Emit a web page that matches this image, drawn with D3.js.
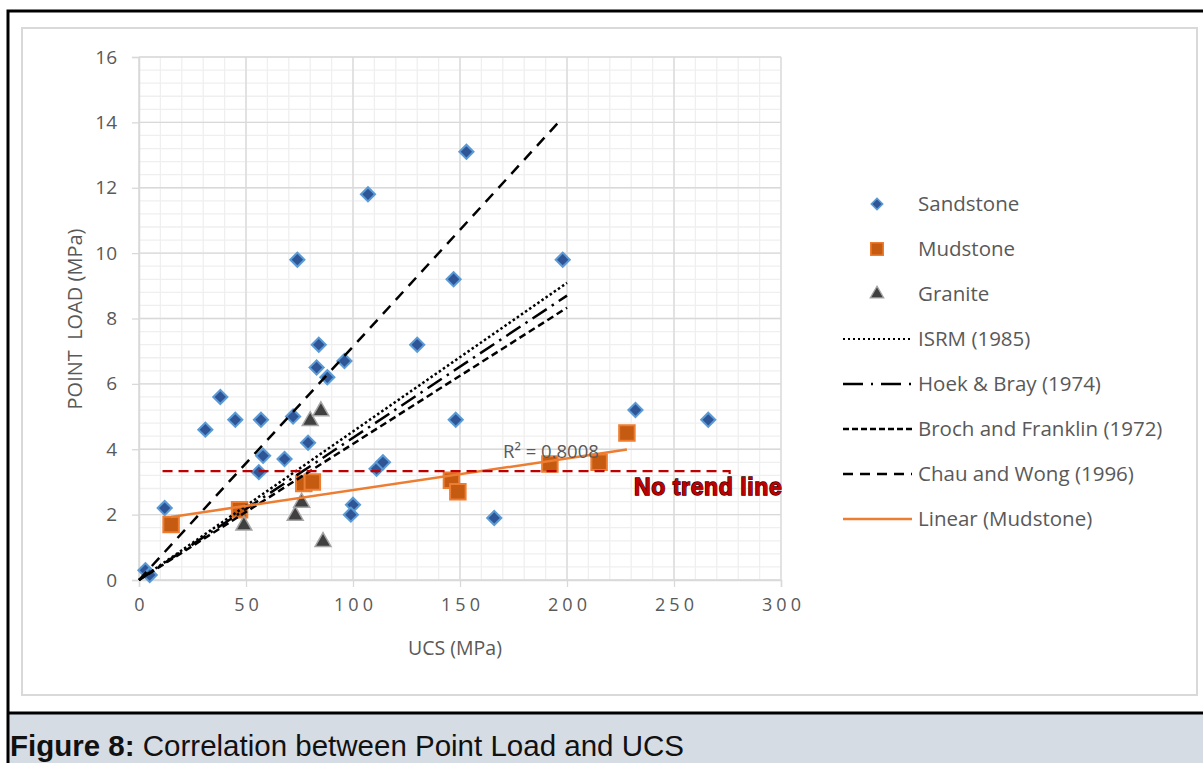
<!DOCTYPE html>
<html>
<head>
<meta charset="utf-8">
<script src="https://cdn.jsdelivr.net/npm/d3@7"></script>
<style>
  body { margin: 0; background: #fff; }
  text { font-family: "Open Sans", sans-serif; }
</style>
</head>
<body>
<div id="chart"></div>
<script>
// sandstone / mudstone / granite samples: [UCS, point load]
var sandstone = [
  [3, 0.3], [5, 0.15], [12, 2.2], [31, 4.6], [38, 5.6], [45, 4.9], [57, 4.9],
  [56, 3.3], [58, 3.8], [68, 3.7], [72, 5.0], [79, 4.2], [84, 7.2], [83, 6.5],
  [88, 6.2], [96, 6.7], [74, 9.8], [107, 11.8], [130, 7.2], [153, 13.1],
  [147, 9.2], [148, 4.9], [198, 9.8], [232, 5.2], [266, 4.9], [166, 1.9],
  [111, 3.4], [114, 3.6], [100, 2.3], [99, 2.0]
];
var mudstone = [
  [15, 1.7], [47, 2.15], [77, 2.95], [81, 3.0], [146, 3.05], [149, 2.7],
  [192, 3.55], [215, 3.6], [228, 4.5]
];
var granite = [
  [49, 1.7], [73, 2.0], [76, 2.4], [80, 4.9], [85, 5.2], [86, 1.2]
];

// published correlations, start and end points
var isrm = [[0, 0], [200, 9.09]];
var hoekBray = [[0, 0], [200, 8.7]];
var brochFranklin = [[0, 0], [200, 8.33]];
var chauWong = [[0, 0], [197, 14.07]];
var mudTrend = [[15, 1.93], [228, 3.99]];
var noTrend = [[11, 3.33], [276, 3.33]];

var xTicks = [0, 50, 100, 150, 200, 250, 300];
var yTicks = [0, 2, 4, 6, 8, 10, 12, 14, 16];

var svgWidth = 1203;
var svgHeight = 763;

var svg = d3.select("#chart")
  .append("svg")
  .attr("width", svgWidth)
  .attr("height", svgHeight);

svg.append("rect")
  .attr("width", svgWidth)
  .attr("height", svgHeight)
  .attr("fill", "#fff");

// caption band
svg.append("rect")
  .attr("x", 8)
  .attr("y", 714)
  .attr("width", svgWidth)
  .attr("height", 49)
  .attr("fill", "#d6dce4");

svg.append("path")
  .attr("d", `M${svgWidth},11 H8 V${svgHeight} M8,713 H${svgWidth}`)
  .attr("fill", "none")
  .attr("stroke", "#000")
  .attr("stroke-width", 3);

svg.append("text")
  .attr("x", 10)
  .attr("y", 756)
  .attr("font-size", "29.5px")
  .attr("fill", "#111")
  .style("font-family", "'Liberation Sans', Arial, sans-serif")
  .html('<tspan font-weight="bold">Figure 8:</tspan> Correlation between Point Load and UCS');

// chart area frame
svg.append("rect")
  .attr("x", 22)
  .attr("y", 28)
  .attr("width", 1175)
  .attr("height", 667)
  .attr("fill", "#fff")
  .attr("stroke", "#d9d9d9")
  .attr("stroke-width", 2);

var x = d3.scaleLinear().domain([0, 300]).range([139, 781]);
var y = d3.scaleLinear().domain([0, 16]).range([580, 57]);

var grid = svg.append("g");

// minor grid
grid.selectAll(".minorX")
  .data(d3.range(0, 301, 10))
  .enter()
  .append("line")
  .attr("x1", d => x(d))
  .attr("x2", d => x(d))
  .attr("y1", y(0))
  .attr("y2", y(16))
  .attr("stroke", "#efefef")
  .attr("stroke-width", 1.3);

grid.selectAll(".minorY")
  .data(d3.range(0, 40.5).map(i => i * 0.4))
  .enter()
  .append("line")
  .attr("x1", x(0))
  .attr("x2", x(300))
  .attr("y1", d => y(d))
  .attr("y2", d => y(d))
  .attr("stroke", "#efefef")
  .attr("stroke-width", 1.3);

// major grid
grid.selectAll(".majorX")
  .data(xTicks)
  .enter()
  .append("line")
  .attr("x1", d => x(d))
  .attr("x2", d => x(d))
  .attr("y1", y(0))
  .attr("y2", y(16))
  .attr("stroke", "#d9d9d9")
  .attr("stroke-width", 1.3);

grid.selectAll(".majorY")
  .data(yTicks)
  .enter()
  .append("line")
  .attr("x1", x(0))
  .attr("x2", x(300))
  .attr("y1", d => y(d))
  .attr("y2", d => y(d))
  .attr("stroke", "#d9d9d9")
  .attr("stroke-width", 1.3);

var xAxis = d3.axisBottom(x).tickValues(xTicks).tickSize(7).tickPadding(11);
var yAxis = d3.axisLeft(y).tickValues(yTicks).tickSize(7).tickPadding(15);

var xg = svg.append("g")
  .attr("transform", `translate(0, ${y(0)})`)
  .call(xAxis);

var yg = svg.append("g")
  .attr("transform", `translate(${x(0)}, 0)`)
  .call(yAxis);

[xg, yg].forEach(g => {
  g.select(".domain").attr("stroke", "#d9d9d9").attr("stroke-width", 1.5);
  g.selectAll(".tick line").attr("stroke", "#d9d9d9").attr("stroke-width", 1.3);
  g.selectAll(".tick text")
    .attr("fill", "#595959")
    .style("font-size", "19px")
    .style("font-family", "'Open Sans', sans-serif");
});
xg.selectAll(".tick text")
  .style("font-size", "18px")
  .attr("letter-spacing", "4px")
  .attr("dx", "2px");

svg.append("text")
  .attr("x", 455)
  .attr("y", 655)
  .attr("text-anchor", "middle")
  .attr("font-size", "19.5px")
  .attr("fill", "#595959")
  .text("UCS (MPa)");

svg.append("text")
  .attr("transform", "translate(82, 319) rotate(-90)")
  .attr("text-anchor", "middle")
  .attr("font-size", "20px")
  .attr("fill", "#595959")
  .attr("xml:space", "preserve")
  .style("white-space", "pre")
  .text("POINT  LOAD (MPa)");

// markers
var diamond = d3.symbol().type(d3.symbolSquare).size(100);
var square = d3.symbol().type(d3.symbolSquare).size(240);
var triangle = d3.symbol().type(d3.symbolTriangle).size(110);

svg.selectAll(".sand")
  .data(sandstone)
  .enter()
  .append("path")
  .attr("d", diamond)
  .attr("transform", d => `translate(${x(d[0])}, ${y(d[1])}) rotate(45)`)
  .attr("fill", "#2f5597")
  .attr("stroke", "#5b9bd5")
  .attr("stroke-width", 2);

svg.selectAll(".mud")
  .data(mudstone)
  .enter()
  .append("path")
  .attr("d", square)
  .attr("transform", d => `translate(${x(d[0])}, ${y(d[1])})`)
  .attr("fill", "#c55a11")
  .attr("stroke", "#ed7d31")
  .attr("stroke-width", 2);

svg.selectAll(".gran")
  .data(granite)
  .enter()
  .append("path")
  .attr("d", triangle)
  .attr("transform", d => `translate(${x(d[0])}, ${y(d[1]) + 1})`)
  .attr("fill", "#404040")
  .attr("stroke", "#a5a5a5")
  .attr("stroke-width", 1.5);

var line = d3.line().x(d => x(d[0])).y(d => y(d[1]));

var lineStyles = [
  { data: isrm, dash: "2.5,2.5", color: "#000", width: 2.5, name: "ISRM (1985)", legendDash: "2,3", legendWidth: 2 },
  { data: hoekBray, dash: "17,6,2.5,6", color: "#000", width: 2.5, name: "Hoek & Bray (1974)", legendDash: "20,8,2,8", legendWidth: 2.5 },
  { data: brochFranklin, dash: "7,4", color: "#000", width: 2.5, name: "Broch and Franklin (1972)", legendDash: "6,3", legendWidth: 2.5 },
  { data: chauWong, dash: "11,8", color: "#000", width: 2.5, name: "Chau and Wong (1996)", legendDash: "10,7", legendWidth: 2.5 },
  { data: mudTrend, dash: null, color: "#ed7d31", width: 2.5, name: "Linear (Mudstone)", legendDash: null, legendWidth: 2.5 }
];

lineStyles.forEach(s => {
  svg.append("path")
    .attr("d", line(s.data))
    .attr("fill", "none")
    .attr("stroke", s.color)
    .attr("stroke-width", s.width)
    .attr("stroke-dasharray", s.dash);
});

svg.append("text")
  .attr("x", 503)
  .attr("y", 458)
  .attr("font-size", "18.5px")
  .attr("fill", "#595959")
  .text("R² = 0.8008");

// "no trend" marker line
svg.append("path")
  .attr("d", line(noTrend) + " v5")
  .attr("fill", "none")
  .attr("stroke", "#c00000")
  .attr("stroke-width", 2.2)
  .attr("stroke-dasharray", "10,6");

svg.append("text")
  .attr("x", 634)
  .attr("y", 495)
  .style("font-family", "'Liberation Sans', Arial, sans-serif")
  .attr("font-size", "23px")
  .attr("font-weight", "bold")
  .attr("fill", "#c00000")
  .attr("stroke", "#300")
  .attr("stroke-width", 1.3)
  .attr("paint-order", "stroke")
  .attr("letter-spacing", "0.6px")
  .text("No trend line");

// legend
var legendX = 843;
var legendTop = 204;
var legendStep = 45;
var legend = svg.append("g");

var markerItems = [
  { name: "Sandstone", sym: diamond, rot: 45, fill: "#2f5597", stroke: "#5b9bd5", sw: 2, scale: 0.8 },
  { name: "Mudstone", sym: square, rot: 0, fill: "#c55a11", stroke: "#ed7d31", sw: 2, scale: 0.8 },
  { name: "Granite", sym: triangle, rot: 0, fill: "#404040", stroke: "#a5a5a5", sw: 1.5, scale: 0.85 }
];

markerItems.forEach((m, i) => {
  var ly = legendTop + i * legendStep;
  legend.append("path")
    .attr("d", m.sym)
    .attr("transform", `translate(877, ${ly}) rotate(${m.rot}) scale(${m.scale})`)
    .attr("fill", m.fill)
    .attr("stroke", m.stroke)
    .attr("stroke-width", m.sw);
  legend.append("text")
    .attr("x", 918)
    .attr("y", ly)
    .attr("dy", "0.35em")
    .attr("font-size", "20.5px")
    .attr("fill", "#595959")
    .text(m.name);
});

lineStyles.forEach((s, i) => {
  var ly = legendTop + (i + 3) * legendStep;
  legend.append("line")
    .attr("x1", legendX)
    .attr("x2", 912)
    .attr("y1", ly)
    .attr("y2", ly)
    .attr("stroke", s.color)
    .attr("stroke-width", s.legendWidth)
    .attr("stroke-dasharray", s.legendDash);
  legend.append("text")
    .attr("x", 918)
    .attr("y", ly)
    .attr("dy", "0.35em")
    .attr("font-size", "20.5px")
    .attr("fill", "#595959")
    .text(s.name);
});
</script>
</body>
</html>
